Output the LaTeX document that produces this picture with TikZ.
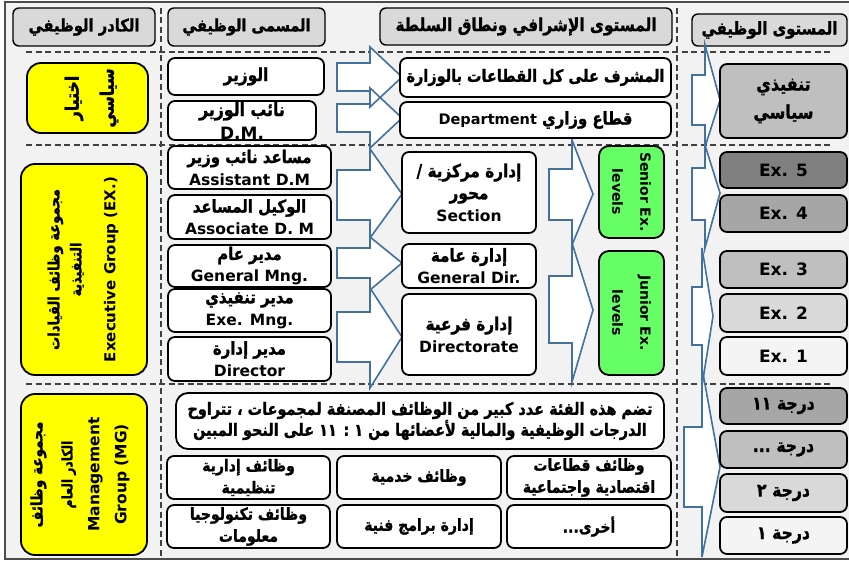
\documentclass[tikz,border=0pt]{standalone}
\usepackage{fontspec}
\setmainfont{DejaVu Sans}
\newfontfamily\arabicfont[Script=Arabic, FakeStretch=0.85, FakeBold=1.2]{DejaVu Sans}
\TeXXeTstate=1
\definecolor{bgc}{HTML}{F2F2F2}
\definecolor{hdrgray}{HTML}{D9D9D9}
\definecolor{yel}{HTML}{FFFF00}
\definecolor{grn}{HTML}{66FF66}
\definecolor{arrblue}{HTML}{41719C}
\definecolor{dashc}{HTML}{404040}
\definecolor{lv1}{HTML}{808080}
\definecolor{lv2}{HTML}{A6A6A6}
\definecolor{lv3}{HTML}{BFBFBF}
\definecolor{lv4}{HTML}{D9D9D9}
\definecolor{lv5}{HTML}{F4F4F4}
\newcommand\fs[2]{\fontsize{#1}{#2}\selectfont}
\newcommand\ar[2][]{{\arabicfont#1\beginR #2\endR}}
\newcommand\lt[2][]{{#1#2}}
\newcommand\mkbox[7]{\node[#2, minimum width={(#5-#3)*1pt}, minimum height={(#6-#4)*1pt}] (#1) at ({(#3+#5)/2},{(#4+#6)/2}) {#7};}
\tikzset{
  hdr/.style={draw=black, line width=1.4pt, rounded corners=6pt, fill=hdrgray, inner sep=1pt, font=\bfseries\fs{15}{18}},
  wbox/.style={draw=black, line width=1.8pt, rounded corners=7pt, fill=white, inner sep=1pt, align=center, font=\bfseries\fs{15.5}{22}},
  ybox/.style={draw=black, line width=1.8pt, rounded corners=14pt, fill=yel, inner sep=1pt},
  gbox/.style={draw=black, line width=1.8pt, rounded corners=10pt, fill=grn, inner sep=1pt},
  lvl/.style={draw=black, line width=1.8pt, rounded corners=7pt, inner sep=1pt, align=center, font=\bfseries\fs{17}{28}},
  rottxt/.style={align=center, inner sep=0pt},
  dsh/.style={draw=dashc, line width=1.3pt, dash pattern=on 6pt off 3.5pt},
  arrfill/.style={fill=white},
  arrline/.style={draw=arrblue, line width=1.6pt, line join=miter}
}
\begin{document}
\begin{tikzpicture}[x=1pt,y=-1pt]
\useasboundingbox (0,0) rectangle (849,561);
\clip (0,0) rectangle (849,561);
\fill[white] (0,0) rectangle (849,561);
\draw[fill=bgc, draw=black!70, line width=1.8pt] (5,2) rectangle (853,559);
% dashed separators
\draw[dsh] (26,52) -- (830,52);
\draw[dsh] (26,145) -- (830,145);
\draw[dsh] (26,384) -- (830,384);
\draw[dsh] (161,8) -- (161,558);
\draw[dsh] (677,8) -- (677,558);
% headers
\mkbox{h1}{hdr}{13}{8}{155}{46}{\ar[\fs{17.3}{20}]{الكادر الوظيفي}}
\mkbox{h2}{hdr}{168}{8}{325}{46}{\ar[\fs{17}{20}]{المسمى الوظيفي}}
\mkbox{h3}{hdr}{380}{8}{672}{45}{\ar[\fs{18}{20}]{المستوى الإشرافي ونطاق السلطة}}
\mkbox{h4}{hdr}{692}{14}{847}{46}{\ar[\fs{17.5}{20}]{المستوى الوظيفي}}
% yellow group boxes
\mkbox{y1}{ybox}{27}{63}{148}{133}{}
\node[rottxt, rotate=90, font=\bfseries\fs{18}{35}] (y1t) at ([xshift=4pt]y1.center) {\ar[\fs{18.5}{35}]{اختيار}\\\ar[\fs{18.5}{35}]{سياسي}};
\mkbox{y2}{ybox}{21}{164}{147}{375}{}
\node[rottxt, rotate=90, font=\bfseries\fs{14}{22}] (y2t) at ([xshift=-1pt]y2.center) {\ar[\fs{15.5}{22}]{مجموعة وظائف القيادات}\\\ar[\fs{15}{22}]{التنفيذية}\\[12pt]\lt[\fs{15}{22}]{Executive Group (EX.)}};
\mkbox{y3}{ybox}{21}{394}{147}{555}{}
\node[rottxt, rotate=90, font=\bfseries\fs{15}{27}] (y3t) at ([xshift=-4pt]y3.center) {\ar[\fs{16}{27}]{مجموعة وظائف}\\[3pt]\ar[\fs{14.5}{27}]{الكادر العام}\\\lt[\fs{15.5}{27}]{Management}\\\lt[\fs{15.5}{27}]{Group (MG)}};
% arrows (fills then outlines)
\foreach \xl/\xb/\xt/\st/\sb/\ht/\hb/\ty in {
  337/370/402/63/91/47/107/77,
  337/370/402/104/132/88/148/118,
  337/370/402/170/220/149/238/194,
  337/370/402/248/278/237/290/263,
  337/370/402/312/362/288/388/337,
  549/572/593/169/220/140/245/194,
  549/572/593/276/343/243/382/310,
  692/705/720/75/125/45/147/100,
  692/705/720/168/220/145/248/193,
  692/702/713/287/345/248/386/316,
  684/702/720/427/507/368/557/467}{
  \fill[arrfill] (\xl,\st) -- (\xb,\st) -- (\xb,\ht) -- (\xt,\ty) -- (\xb,\hb) -- (\xb,\sb) -- (\xl,\sb) -- cycle;
}
\foreach \xl/\xb/\xt/\st/\sb/\ht/\hb/\ty in {
  337/370/402/63/91/47/107/77,
  337/370/402/104/132/88/148/118,
  337/370/402/170/220/149/238/194,
  337/370/402/248/278/237/290/263,
  337/370/402/312/362/288/388/337,
  549/572/593/169/220/140/245/194,
  549/572/593/276/343/243/382/310,
  692/705/720/75/125/45/147/100,
  692/705/720/168/220/145/248/193,
  692/702/713/287/345/248/386/316,
  684/702/720/427/507/368/557/467}{
  \draw[arrline] (\xl,\st) -- (\xb,\st) -- (\xb,\ht) -- (\xt,\ty) -- (\xb,\hb) -- (\xb,\sb) -- (\xl,\sb) -- cycle;
}
% job titles
\mkbox{t1}{wbox}{168}{58}{324}{95}{\ar[\fs{18}{22}]{الوزير}}
\mkbox{t2}{wbox, font=\bfseries\fs{17}{23}}{168}{102}{316}{139}{\ar[\fs{18.5}{23}]{نائب الوزير}\\D.M.}
\mkbox{t3}{wbox}{168}{146}{331}{189}{\ar[\fs{17.5}{22}]{مساعد نائب وزير}\\Assistant D.M}
\mkbox{t4}{wbox}{168}{195}{331}{239}{\ar[\fs{17.5}{22}]{الوكيل المساعد}\\Associate D. M}
\mkbox{t5}{wbox}{168}{245}{331}{287}{\ar[\fs{17.5}{22}]{مدير عام}\\General Mng.}
\mkbox{t6}{wbox}{168}{289}{331}{332}{\ar[\fs{17.5}{22}]{مدير تنفيذي}\\Exe. Mng.}
\mkbox{t7}{wbox}{168}{337}{331}{381}{\ar[\fs{17.5}{22}]{مدير إدارة}\\Director}
% supervisory level
\mkbox{s1}{wbox}{400}{58}{671}{97}{\ar[\fs{17}{22}]{المشرف على كل القطاعات بالوزارة}}
\mkbox{s2}{wbox}{400}{102}{671}{138}{\ar[\fs{17.5}{22}]{قطاع وزاري \beginL{\normalfont\bfseries\fs{14.5}{22}Department}\endL}}
\mkbox{s3}{wbox}{402}{152}{536}{233}{\ar[\fs{18}{22}]{إدارة مركزية /}\\\ar[\fs{18}{22}]{محور}\\Section}
\mkbox{s4}{wbox}{402}{244}{536}{288}{\ar[\fs{18}{22}]{إدارة عامة}\\General Dir.}
\mkbox{s5}{wbox}{402}{294}{536}{375}{\ar[\fs{18}{22}]{إدارة فرعية}\\Directorate}
% green
\mkbox{g1}{gbox}{599}{146}{664}{238}{}
\node[rottxt, rotate=-90, font=\bfseries\fs{14}{28}] (g1t) at (g1.center) {Senior Ex.\\levels};
\mkbox{g2}{gbox}{599}{251}{664}{375}{}
\node[rottxt, rotate=-90, font=\bfseries\fs{14}{28}] (g2t) at (g2.center) {Junior Ex.\\levels};
% levels
\mkbox{r0}{lvl, fill=lv3}{720}{64}{847}{138}{\ar[\fs{18.8}{28}]{تنفيذي}\\\ar[\fs{18.8}{28}]{سياسي}}
\mkbox{e5}{lvl, fill=lv1}{720}{152}{847}{188}{Ex. 5}
\mkbox{e4}{lvl, fill=lv2}{720}{195}{847}{232}{Ex. 4}
\mkbox{e3}{lvl, fill=lv3}{720}{251}{847}{288}{Ex. 3}
\mkbox{e2}{lvl, fill=lv4}{720}{294}{847}{332}{Ex. 2}
\mkbox{e1}{lvl, fill=lv5}{720}{337}{847}{375}{Ex. 1}
\mkbox{d11}{lvl, fill=lv2}{720}{388}{847}{424}{\ar[\fs{18.5}{28}]{درجة ١١}}
\mkbox{dd}{lvl, fill=lv3}{720}{431}{847}{468}{\ar[\fs{18.5}{28}]{درجة ...}}
\mkbox{d2}{lvl, fill=lv4}{720}{474}{847}{512}{\ar[\fs{18.5}{28}]{درجة ٢}}
\mkbox{d1}{lvl, fill=lv5}{720}{517}{847}{554}{\ar[\fs{18.5}{28}]{درجة ١}}
% management group
\mkbox{desc}{wbox, rounded corners=12pt, font=\bfseries\fs{17}{21}}{176}{393}{664}{449}{\ar[\fs{17}{21}]{تضم هذه الفئة عدد كبير من الوظائف المصنفة لمجموعات ، تتراوح}\\\ar[\fs{17}{21}]{الدرجات الوظيفية والمالية لأعضائها من ١ : ١١ على النحو المبين}}
\mkbox{m1}{wbox, font=\bfseries\fs{16.5}{22}}{167}{456}{330}{499}{\ar[\fs{16.5}{22}]{وظائف إدارية}\\\ar[\fs{16.5}{22}]{تنظيمية}}
\mkbox{m2}{wbox, font=\bfseries\fs{16.5}{22}}{337}{456}{501}{499}{\ar[\fs{16.5}{22}]{وظائف خدمية}}
\mkbox{m3}{wbox, font=\bfseries\fs{16.5}{22}}{507}{456}{671}{499}{\ar[\fs{16.5}{22}]{وظائف قطاعات}\\\ar[\fs{16.5}{22}]{اقتصادية واجتماعية}}
\mkbox{m4}{wbox, font=\bfseries\fs{16.5}{22}}{167}{505}{330}{548}{\ar[\fs{16.5}{22}]{وظائف تكنولوجيا}\\\ar[\fs{16.5}{22}]{معلومات}}
\mkbox{m5}{wbox, font=\bfseries\fs{16.5}{22}}{337}{505}{501}{548}{\ar[\fs{16.5}{22}]{إدارة برامج فنية}}
\mkbox{m6}{wbox, font=\bfseries\fs{16.5}{22}}{507}{505}{671}{548}{\ar[\fs{16.5}{22}]{أخرى...}}
\end{tikzpicture}
\end{document}
